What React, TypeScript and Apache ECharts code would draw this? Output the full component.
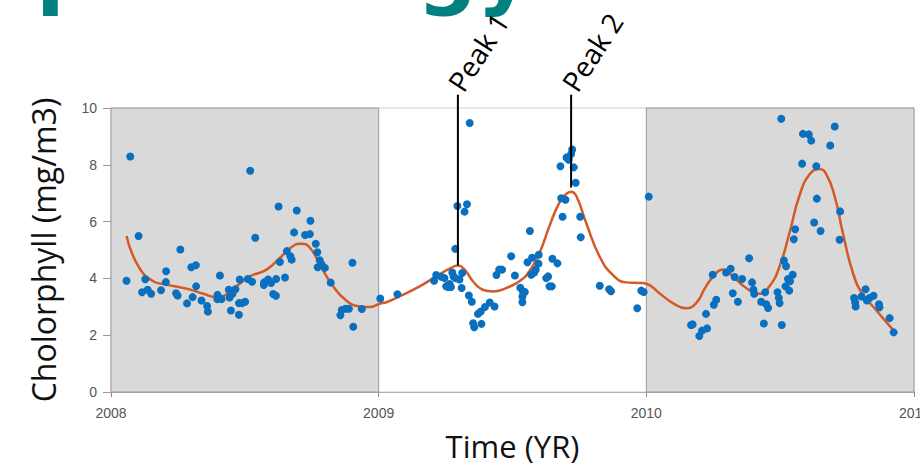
import React, { useEffect, useRef } from "react";
import * as echarts from "echarts";

// ---- data ----
const yearTicks = [2008, 2009, 2010, 2011];
const shadedYears = [
  [2008, 2009],
  [2010, 2011],
];

const obs2008: [number, number][] = [
  [2008.058, 3.92], [2008.072, 8.29], [2008.103, 5.49], [2008.116, 3.51], [2008.128, 3.97],
  [2008.137, 3.6], [2008.15, 3.46], [2008.187, 3.58], [2008.206, 4.25], [2008.205, 3.87],
  [2008.243, 3.48], [2008.249, 3.4], [2008.259, 5.02], [2008.284, 3.12], [2008.3, 4.39],
  [2008.305, 3.34], [2008.317, 4.46], [2008.318, 3.72], [2008.338, 3.22], [2008.359, 3.03],
  [2008.362, 2.83], [2008.398, 3.42], [2008.397, 3.27], [2008.407, 4.1], [2008.413, 3.27],
  [2008.44, 3.6], [2008.448, 2.87], [2008.443, 3.33], [2008.454, 3.46], [2008.465, 3.62],
  [2008.478, 2.72], [2008.481, 3.96], [2008.478, 3.13], [2008.49, 3.13], [2008.501, 3.18],
  [2008.511, 3.98], [2008.52, 7.79], [2008.527, 3.88], [2008.539, 5.43], [2008.571, 3.77],
  [2008.572, 3.86], [2008.587, 3.96], [2008.598, 3.84], [2008.606, 3.45], [2008.616, 3.39],
  [2008.617, 3.98], [2008.626, 6.53], [2008.631, 4.58], [2008.65, 4.03], [2008.657, 4.96],
  [2008.67, 4.78], [2008.675, 4.66], [2008.684, 5.62], [2008.694, 6.39], [2008.725, 5.53],
  [2008.743, 5.56], [2008.745, 6.03], [2008.765, 5.22], [2008.771, 4.92], [2008.772, 4.39],
  [2008.78, 4.64], [2008.787, 4.49], [2008.799, 4.37], [2008.821, 3.85], [2008.857, 2.7],
  [2008.862, 2.89], [2008.876, 2.93], [2008.889, 2.93], [2008.902, 4.55], [2008.905, 2.3],
  [2008.937, 2.92],
];

const obs2009: [number, number][] = [
  [2009.006, 3.29], [2009.07, 3.44], [2009.215, 4.12], [2009.207, 3.92], [2009.234, 4.06],
  [2009.246, 4.01], [2009.252, 3.72], [2009.265, 3.8], [2009.26, 3.7], [2009.27, 3.7],
  [2009.275, 4.21], [2009.28, 4.07], [2009.287, 4.01], [2009.286, 5.04], [2009.294, 6.55],
  [2009.302, 3.96], [2009.312, 4.19], [2009.31, 3.66], [2009.321, 6.35], [2009.33, 6.61],
  [2009.34, 9.47], [2009.337, 3.4], [2009.348, 3.18], [2009.353, 2.42], [2009.357, 2.28],
  [2009.371, 2.75], [2009.384, 2.4], [2009.381, 2.83], [2009.397, 2.99], [2009.415, 3.15],
  [2009.433, 3.01], [2009.44, 4.12], [2009.45, 4.31], [2009.461, 4.31], [2009.495, 4.78],
  [2009.509, 4.1], [2009.529, 3.67], [2009.539, 3.54], [2009.546, 3.52], [2009.537, 3.36],
  [2009.537, 3.16], [2009.556, 4.57], [2009.565, 5.67], [2009.573, 4.73], [2009.57, 4.13],
  [2009.581, 4.21], [2009.587, 4.31], [2009.598, 4.83], [2009.597, 4.52], [2009.626, 4.01],
  [2009.633, 4.07], [2009.638, 3.72], [2009.647, 3.72], [2009.649, 4.69], [2009.668, 4.53],
  [2009.679, 7.95], [2009.682, 6.82], [2009.687, 6.17], [2009.698, 6.77], [2009.702, 8.26],
  [2009.71, 8.18], [2009.719, 8.38], [2009.723, 8.54], [2009.729, 7.91], [2009.736, 7.37],
  [2009.753, 6.17], [2009.755, 5.45], [2009.826, 3.74], [2009.861, 3.62], [2009.868, 3.55],
  [2009.966, 2.95], [2009.981, 3.57], [2009.99, 3.52],
];

const obs2010: [number, number][] = [
  [2010.009, 6.88], [2010.167, 2.36], [2010.173, 2.38], [2010.198, 1.97], [2010.208, 2.16],
  [2010.227, 2.24], [2010.223, 2.75], [2010.252, 3.07], [2010.261, 3.25], [2010.248, 4.13],
  [2010.298, 4.21], [2010.315, 4.34], [2010.323, 3.48], [2010.33, 4.05], [2010.342, 3.18],
  [2010.358, 3.98], [2010.384, 4.71], [2010.395, 3.86], [2010.4, 3.6], [2010.403, 3.46],
  [2010.429, 3.18], [2010.439, 2.41], [2010.444, 3.51], [2010.448, 3.09], [2010.455, 2.96],
  [2010.49, 3.51], [2010.495, 3.31], [2010.498, 3.13], [2010.506, 2.36], [2010.504, 9.62],
  [2010.514, 4.63], [2010.522, 4.43], [2010.52, 3.72], [2010.529, 3.98], [2010.534, 3.57],
  [2010.537, 3.9], [2010.547, 4.13], [2010.551, 5.38], [2010.556, 5.73], [2010.582, 8.04],
  [2010.585, 9.09], [2010.607, 9.07], [2010.616, 8.85], [2010.635, 7.95], [2010.637, 6.81],
  [2010.627, 5.97], [2010.651, 5.67], [2010.687, 8.68], [2010.704, 9.35], [2010.724, 6.36],
  [2010.722, 5.36], [2010.776, 3.31], [2010.78, 3.16], [2010.782, 3.01], [2010.804, 3.36],
  [2010.819, 3.62], [2010.824, 3.22], [2010.834, 3.31], [2010.849, 3.39], [2010.869, 3.09],
  [2010.871, 2.98], [2010.909, 2.6], [2010.924, 2.1],
];

const smoothFit: [number, number][] = [
  [2008.058, 5.49], [2008.102, 4.43], [2008.158, 3.9], [2008.208, 3.78], [2008.282, 3.64],
  [2008.345, 3.46], [2008.394, 3.34], [2008.432, 3.44], [2008.469, 3.72], [2008.519, 4.07],
  [2008.581, 4.31], [2008.631, 4.72], [2008.68, 5.14], [2008.711, 5.22], [2008.743, 5.08],
  [2008.78, 4.49], [2008.83, 3.72], [2008.879, 3.22], [2008.929, 3.01], [2008.966, 2.99],
  [2009.004, 3.11], [2009.029, 3.16], [2009.085, 3.4], [2009.153, 3.72], [2009.215, 4.07],
  [2009.265, 4.34], [2009.296, 4.45], [2009.321, 4.31], [2009.352, 3.9], [2009.389, 3.6],
  [2009.427, 3.54], [2009.476, 3.66], [2009.526, 3.9], [2009.563, 4.25], [2009.601, 4.9],
  [2009.638, 5.84], [2009.675, 6.67], [2009.7, 6.97], [2009.719, 7.05], [2009.738, 6.91],
  [2009.775, 5.96], [2009.825, 4.78], [2009.874, 4.13], [2009.924, 3.86], [2009.974, 3.84],
  [2010.0, 3.81], [2010.049, 3.48], [2010.099, 3.13], [2010.148, 2.95], [2010.186, 3.13],
  [2010.223, 3.72], [2010.261, 4.19], [2010.286, 4.31], [2010.323, 4.07], [2010.373, 3.66],
  [2010.423, 3.46], [2010.46, 3.72], [2010.498, 4.43], [2010.535, 5.61], [2010.572, 6.91],
  [2010.61, 7.67], [2010.647, 7.85], [2010.672, 7.67], [2010.703, 6.91], [2010.734, 5.61],
  [2010.772, 4.19], [2010.809, 3.42], [2010.847, 3.01], [2010.884, 2.6], [2010.924, 2.16],
];

const peakNames = ["Peak 1", "Peak 2"];
const peakTimes = [2009.296, 2009.719];
const peakBottoms = [4.46, 7.2];
const peakTop = 10.47;

export default function App() {
  const ref = useRef<HTMLDivElement>(null);

  useEffect(() => {
    if (!ref.current) return;
    const chart = echarts.init(ref.current, undefined, { renderer: "svg" });

    const peakSeries = peakTimes.map((t, i) => ({
      type: "line",
      name: peakNames[i],
      data: [
        [t, peakBottoms[i]],
        [t, peakTop],
      ],
      symbol: "none",
      clip: false,
      silent: true,
      z: 5,
      lineStyle: { color: "#000", width: 2 },
    }));

    const peakLabelCenters = [
      [478, 52],
      [592, 52],
    ];

    chart.setOption({
      animation: false,
      grid: {
        left: 111,
        right: 6,
        top: 108,
        bottom: 72,
        containLabel: false,
        outerBoundsMode: "none",
        show: true,
        borderColor: "#cfcfcf",
        borderWidth: 1,
      },
      xAxis: {
        type: "value",
        min: yearTicks[0],
        max: yearTicks[yearTicks.length - 1],
        interval: 1,
        splitLine: { show: false },
        axisLine: { show: true, lineStyle: { color: "#b0b0b0" } },
        axisTick: { show: true, length: 5, lineStyle: { color: "#888" } },
        axisLabel: {
          color: "#555",
          fontSize: 14,
          fontFamily: "Liberation Sans, Arial, sans-serif",
          margin: 14,
          showMaxLabel: true,
          showMinLabel: true,
          hideOverlap: false,
          formatter: (v: number) => String(v),
        },
        name: "Time (YR)",
        nameLocation: "middle",
        nameGap: 38,
        nameTextStyle: { fontSize: 31, color: "#111", fontFamily: "Open Sans, sans-serif" },
      },
      yAxis: {
        type: "value",
        min: 0,
        max: 10,
        interval: 2,
        splitLine: { show: false },
        axisLine: { show: false },
        axisTick: { show: true, length: 8, lineStyle: { color: "#999" } },
        axisLabel: {
          color: "#555",
          fontSize: 14,
          fontFamily: "Liberation Sans, Arial, sans-serif",
          margin: 14,
        },
        name: "Cholorphyll (mg/m3)",
        nameLocation: "middle",
        nameRotate: 90,
        nameGap: 52,
        nameTextStyle: { fontSize: 32, color: "#111", fontFamily: "Open Sans, sans-serif" },
      },
      series: [
        {
          type: "scatter",
          data: [],
          silent: true,
          z: 1,
          markArea: {
            silent: true,
            itemStyle: { color: "#d9d9d9", borderColor: "#999", borderWidth: 1 },
            data: shadedYears.map(([a, b]) => [{ xAxis: a, yAxis: 0 }, { xAxis: b, yAxis: 10 }]),
          },
        },
        {
          type: "line",
          data: smoothFit,
          smooth: 0.5,
          symbol: "none",
          silent: true,
          z: 3,
          lineStyle: { color: "#d35a26", width: 2.5 },
        },
        {
          type: "scatter",
          data: [...obs2008, ...obs2009, ...obs2010],
          symbolSize: 8,
          silent: true,
          z: 4,
          itemStyle: { color: "#0a6fbe", opacity: 1 },
        },
        ...peakSeries,
      ],
      graphic: [
        {
          type: "text",
          x: 36,
          y: -30,
          silent: true,
          style: {
            text: "phenology",
            fontSize: 84,
            fontWeight: "bold",
            fontFamily: "DejaVu Sans, sans-serif",
            fill: "#00807f",
            align: "left",
            verticalAlign: "middle",
            textAlign: "left",
            textVerticalAlign: "middle",
          },
        },
        ...peakNames.map((n, i) => ({
          type: "text",
          x: peakLabelCenters[i][0],
          y: peakLabelCenters[i][1],
          rotation: (57 * Math.PI) / 180,
          silent: true,
          style: {
            text: n,
            fontSize: 28,
            fontFamily: "Open Sans, sans-serif",
            fill: "#000",
            align: "center",
            verticalAlign: "middle",
            textAlign: "center",
            textVerticalAlign: "middle",
          },
        })),
      ],
    });

    return () => chart.dispose();
  }, []);

  return <div ref={ref} style={{ width: 920, height: 464, position: "absolute", left: 0, top: 0 }} />;
}
